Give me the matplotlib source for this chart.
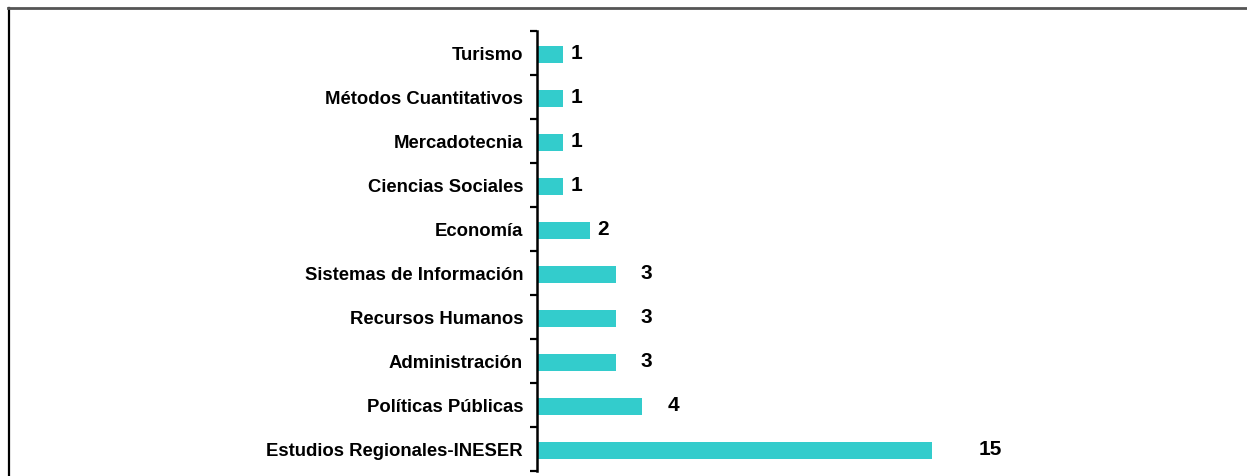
import matplotlib.pyplot as plt
import numpy as np
from matplotlib.lines import Line2D

plt.rcParams['font.family'] = ['Liberation Sans', 'DejaVu Sans']

# categories listed bottom to top
areas = ['Estudios Regionales-INESER', 'Políticas Públicas', 'Administración',
         'Recursos Humanos', 'Sistemas de Información', 'Economía',
         'Ciencias Sociales', 'Mercadotecnia', 'Métodos Cuantitativos', 'Turismo']
counts = [15, 4, 3, 3, 3, 2, 1, 1, 1, 1]
label_pad = [47, 25, 25, 25, 25, 8, 7, 7, 7, 7]  # pixels after bar end

fig = plt.figure(figsize=(12.47, 4.77), dpi=100)
W, H = 1247, 477
ax = fig.add_axes([537 / W, 5 / H, 684 / W, 440 / H])

y = np.arange(len(areas))
ax.barh(y - 0.03, counts, height=0.39, color='#33CCCC', zorder=2)
ax.set_xlim(0, 26)
ax.set_ylim(-0.5, len(areas) - 0.5)

for yi, v, p in zip(y, counts, label_pad):
    ax.annotate(str(v), (v, yi), xytext=(p * 0.72, 0), textcoords='offset points',
                ha='left', va='center', fontsize=15, fontweight='bold')

ax.set_yticks(y)
ax.set_yticklabels(areas, fontsize=13.3, fontweight='bold')
ax.tick_params(axis='y', length=0, pad=10)
ax.set_yticks(np.arange(-0.5, len(areas)), minor=True)
ax.tick_params(axis='y', which='minor', length=5, width=1.6, direction='out')
ax.set_xticks([])
for s in ['top', 'right', 'bottom']:
    ax.spines[s].set_visible(False)
ax.spines['left'].set_linewidth(1.8)

# outer frame (left and top edges)
fig.add_artist(Line2D([9 / W, 9 / W], [0, 1 - 9 / H], transform=fig.transFigure,
                      color='black', lw=1.6))
fig.add_artist(Line2D([8 / W, 1], [1 - 9 / H, 1 - 9 / H], transform=fig.transFigure,
                      color='#555555', lw=2))

fig.savefig('out.png', dpi=100)
